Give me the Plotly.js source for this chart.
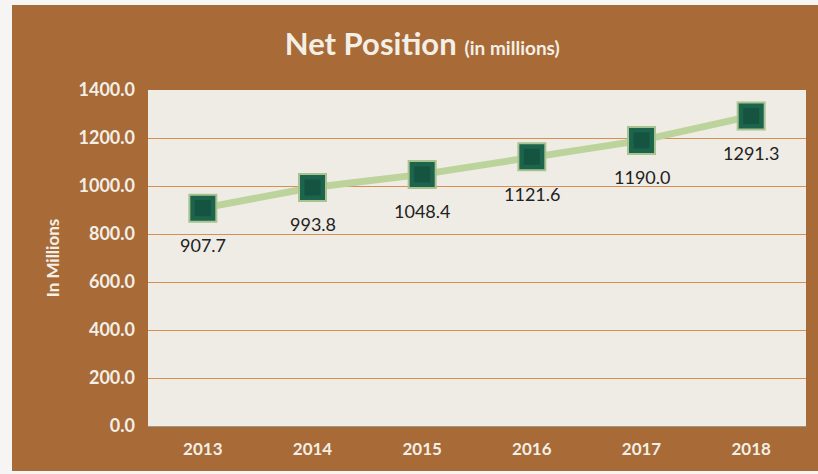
<!DOCTYPE html>
<html>
<head>
<meta charset="utf-8">
<script src="https://cdn.plot.ly/plotly-3.0.1.min.js"></script>
<style>
html,body{margin:0;padding:0;background:#F6F5F3;width:818px;height:474px;overflow:hidden;}
#chart{position:absolute;left:12px;top:5px;width:806px;height:466px;}
</style>
</head>
<body>
<div id="chart"></div>
<script>
const years = ['2013','2014','2015','2016','2017','2018'];
const netPosition = [907.7, 993.8, 1048.4, 1121.6, 1190.0, 1291.3];
const labels = ['907.7','993.8','1048.4','1121.6','1190.0','1291.3'];
const yTicks = [0,200,400,600,800,1000,1200,1400];
const yTickText = ['0.0','200.0','400.0','600.0','800.0','1000.0','1200.0','1400.0'];

const FONT = 'Lato, "Open Sans", sans-serif';
const WHITE = '#F3EFE7';

const traces = [
  {
    x: years, y: netPosition, type: 'scatter', mode: 'lines',
    line: {color: '#BCD49B', width: 7},
    hoverinfo: 'skip', showlegend: false
  },
  {
    x: years, y: netPosition, type: 'scatter', mode: 'markers',
    marker: {symbol: 'square', size: 27, color: '#1D644C', line: {color: '#A8C290', width: 2}},
    showlegend: false
  },
  {
    x: years, y: netPosition, type: 'scatter', mode: 'markers',
    marker: {symbol: 'square', size: 16, color: '#155440', line: {width: 0}},
    hoverinfo: 'skip', showlegend: false
  }
];

const annotations = years.map((yr, i) => ({
  x: i, y: netPosition[i], xref: 'x', yref: 'y',
  text: labels[i], showarrow: false, yshift: -37,
  font: {family: FONT, size: 18, color: '#222222'}
}));

const layout = {
  width: 806, height: 466,
  paper_bgcolor: '#A86A36',
  plot_bgcolor: '#EFECE5',
  margin: {l: 136, r: 12, t: 85, b: 45},
  title: {
    text: '<b>Net Position</b> <b><span style="font-size:19px">(in millions)</span></b>',
    font: {family: FONT, size: 31, color: WHITE},
    x: 0.509, xref: 'container', xanchor: 'center',
    y: 0.915, yref: 'container', yanchor: 'middle'
  },
  xaxis: {
    type: 'category', range: [-0.5, 5.5],
    showgrid: false, zeroline: false,
    showline: true, linecolor: '#9A9A94', linewidth: 1,
    ticks: '', ticklen: 0,
    tickfont: {family: FONT, size: 17, color: WHITE, weight: 'bold'},
    ticklabelstandoff: 8
  },
  yaxis: {
    range: [0, 1400], tickvals: yTicks, ticktext: yTickText,
    showgrid: true, gridcolor: '#D88F52', gridwidth: 1,
    zeroline: false, showline: false, ticks: '',
    tickfont: {family: FONT, size: 18, color: WHITE, weight: 'bold'},
    ticklabelstandoff: 12,
    title: {text: '<b>In Millions</b>', font: {family: FONT, size: 17, color: WHITE}, standoff: 14}
  },
  annotations: annotations,
  hovermode: false
};

Plotly.newPlot('chart', traces, layout, {displayModeBar: false, staticPlot: true});
</script>
</body>
</html>
